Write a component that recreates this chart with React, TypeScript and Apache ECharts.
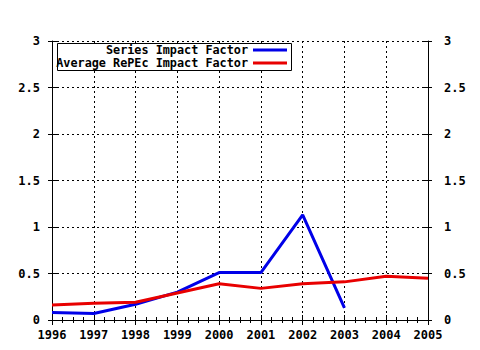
import React, { useEffect, useRef } from "react";
import * as echarts from "echarts";

const years = [1996, 1997, 1998, 1999, 2000, 2001, 2002, 2003, 2004, 2005];
const seriesImpact: (number | null)[] = [0.08, 0.07, 0.17, 0.3, 0.51, 0.51, 1.13, 0.13, null, null];
const averageImpact: number[] = [0.16, 0.18, 0.19, 0.29, 0.39, 0.34, 0.39, 0.41, 0.47, 0.45];
const seriesNames = ["Series Impact Factor", "Average RePEc Impact Factor"];
const colors = ["#0000e8", "#e80000"];

const FONT = "'DejaVu Sans Mono', 'Liberation Mono', monospace";

export default function App() {
  const ref = useRef<HTMLDivElement>(null);
  useEffect(() => {
    document.body.style.margin = "0";
    const chart = echarts.init(ref.current!, undefined, { renderer: "svg" });
    const L = 52, T = 41, W = 376, H = 279;
    const label = { fontFamily: FONT, fontSize: 12, fontWeight: "bold", color: "#000" };
    const split = { show: true, lineStyle: { color: "#000", type: [2, 3], width: 1 } };
    const line = { show: true, lineStyle: { color: "#000", width: 1 } };
    const xBase = { type: "value", min: 1996, max: 2005, interval: 1, gridIndex: 0 };
    const yBase = { type: "value", min: 0, max: 3, interval: 0.5, gridIndex: 0 };
    const toPairs = (arr: (number | null)[]) => years.map((y, i) => [y, arr[i]]);
    chart.setOption({
      animation: false,
      backgroundColor: "#fff",
      grid: { left: L, top: T, width: W, height: H, containLabel: false },
      xAxis: [
        {
          ...xBase, position: "bottom",
          axisLine: line,
          axisTick: { show: true, inside: true, length: 5, lineStyle: { color: "#000" } },
          minorTick: { show: true, splitNumber: 4, length: 3, lineStyle: { color: "#000" } },
          axisLabel: { ...label, margin: 9, formatter: (v: number) => String(v) },
          splitLine: split,
        },
        {
          ...xBase, position: "bottom",
          axisLine: { show: false },
          axisTick: { show: true, inside: false, length: 4, lineStyle: { color: "#000" } },
          minorTick: { show: true, splitNumber: 4, length: 3, lineStyle: { color: "#000" } },
          axisLabel: { show: false },
          splitLine: { show: false },
        },
        {
          ...xBase, position: "top",
          axisLine: line,
          axisTick: { show: true, inside: true, length: 5, lineStyle: { color: "#000" } },
          minorTick: { show: true, splitNumber: 4, length: 3, lineStyle: { color: "#000" } },
          axisLabel: { show: false },
          splitLine: { show: false },
        },
      ],
      yAxis: [
        {
          ...yBase, position: "left",
          axisLine: line,
          axisTick: { show: true, inside: true, length: 5, lineStyle: { color: "#000" } },
          axisLabel: { ...label, margin: 12 },
          splitLine: split,
        },
        {
          ...yBase, position: "left",
          axisLine: { show: false },
          axisTick: { show: true, inside: false, length: 4, lineStyle: { color: "#000" } },
          axisLabel: { show: false },
          splitLine: { show: false },
        },
        {
          ...yBase, position: "right",
          axisLine: line,
          axisTick: { show: true, inside: true, length: 5, lineStyle: { color: "#000" } },
          axisLabel: { ...label, margin: 16 },
          splitLine: { show: false },
        },
        {
          ...yBase, position: "right",
          axisLine: { show: false },
          axisTick: { show: true, inside: false, length: 4, lineStyle: { color: "#000" } },
          axisLabel: { show: false },
          splitLine: { show: false },
        },
      ],
      series: [
        {
          name: seriesNames[0], type: "line", xAxisIndex: 0, yAxisIndex: 0,
          data: toPairs(seriesImpact), showSymbol: false, connectNulls: false,
          lineStyle: { color: colors[0], width: 3 }, itemStyle: { color: colors[0] },
        },
        {
          name: seriesNames[1], type: "line", xAxisIndex: 0, yAxisIndex: 0,
          data: toPairs(averageImpact), showSymbol: false,
          lineStyle: { color: colors[1], width: 3 }, itemStyle: { color: colors[1] },
        },
      ],
      graphic: [
        {
          type: "rect", shape: { x: 57.5, y: 43.5, width: 234, height: 27 },
          style: { fill: "#fff", stroke: "#000", lineWidth: 1 }, z: 100,
        },
        ...seriesNames.flatMap((n, i) => [
          {
            type: "text", x: 248, y: 50 + i * 13, z: 101,
            style: {
              text: n, fill: "#000", font: `bold 11.8px ${FONT}`,
              textAlign: "right", textVerticalAlign: "middle",
            },
          },
          {
            type: "line", z: 101,
            shape: { x1: 253, y1: 50 + i * 13, x2: 287, y2: 50 + i * 13 },
            style: { stroke: colors[i], lineWidth: 3 },
          },
        ]),
      ],
    });
    return () => chart.dispose();
  }, []);
  return <div ref={ref} style={{ width: 480, height: 350 }} />;
}
